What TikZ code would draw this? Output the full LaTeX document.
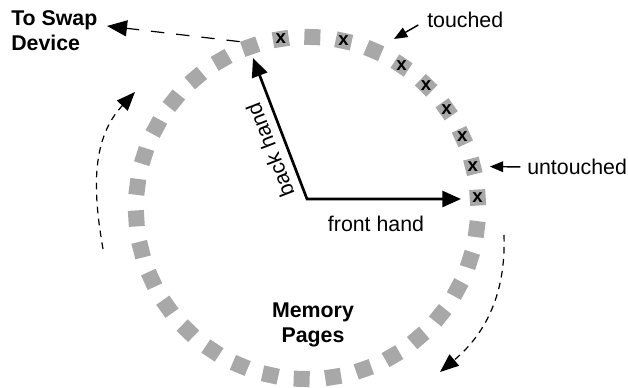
\documentclass[tikz,border=0pt]{standalone}
\usepackage{fontspec}
\setmainfont{Liberation Sans}
\usetikzlibrary{arrows.meta,calc}
\definecolor{pagegray}{RGB}{168,168,168}
\tikzset{
  pagebox/.style={fill=pagegray,minimum size=12pt,inner sep=0pt},
  xmark/.style={inner sep=0pt,font=\fontsize{14}{14}\selectfont\bfseries},
  txt/.style={inner sep=0pt,font=\fontsize{16}{18.75}\selectfont},
  boldtxt/.style={inner sep=0pt,font=\fontsize{16}{18.75}\selectfont\bfseries},
  hand/.style={line width=2pt,{Triangle[length=14pt,width=12pt]}-{Triangle[length=14pt,width=12pt]}},
  sweep/.style={line width=0.9pt,dash pattern=on 5pt off 4pt,-{Triangle[length=14pt,width=11pt]}},
  swapline/.style={line width=0.9pt,dash pattern=on 10pt off 9pt,-{Triangle[length=15pt,width=12pt]}},
  pointer/.style={line width=1.1pt,-{Triangle[length=10pt,width=8pt]}}
}
\begin{document}
\begin{tikzpicture}[x=0.75pt,y=0.75pt]
  \useasboundingbox (0,0) rectangle (628,388);
  \coordinate (ctr) at (307,180);
  % ring of memory pages
  \foreach \j in {0,...,33}{
    \pgfmathsetmacro\a{3.5+\j*360/34}
    \pgfmathsetmacro\r{mod(\a,90)}
    \node[pagebox,rotate=\r] (p\j) at ($(ctr)+(\a:171)$) {};
  }
  % marked pages
  \foreach \j in {0,...,5,7,9}
    \node[xmark] (x\j) at (p\j) {x};
  % clock hands
  \coordinate (pivot) at (307,189);
  \coordinate (fronttip) at (461,189);
  \coordinate (backtip) at (253,330);
  \draw[hand] (backtip) -- (pivot) -- (fronttip);
  \node[txt] (fronthand) at (376,164) {front hand};
  \node[txt,rotate=111] (backhand) at (270,238) {back hand};
  % texts
  \node[boldtxt,align=center] (memory) at (313,63) {Memory\\Pages};
  \node[boldtxt,align=left,anchor=north west] (swap) at (11,378) {To Swap\\Device};
  \node[txt,anchor=west] (touched) at (427,368) {touched};
  \node[txt,anchor=west] (untouched) at (527,221) {untouched};
  % pointers to pages
  \draw[pointer,shorten <=7.5pt,shorten >=17.5pt] (touched.west) -- (p6.center);
  \draw[pointer,shorten <=5pt,shorten >=12.75pt] (untouched.west) -- (p1.center);
  % evicted page to swap
  \coordinate (swaptip) at (107,362);
  \draw[swapline] (p10.north west) -- (swaptip);
  % sweep direction
  \coordinate (lefta) at (103,139);
  \coordinate (leftb) at (135,296);
  \draw[sweep] (lefta) to[out=100,in=227] (leftb);
  \coordinate (righta) at (504,153);
  \coordinate (rightb) at (440,16);
  \draw[sweep] (righta) to[out=-88,in=40] (rightb);
\end{tikzpicture}
\end{document}
